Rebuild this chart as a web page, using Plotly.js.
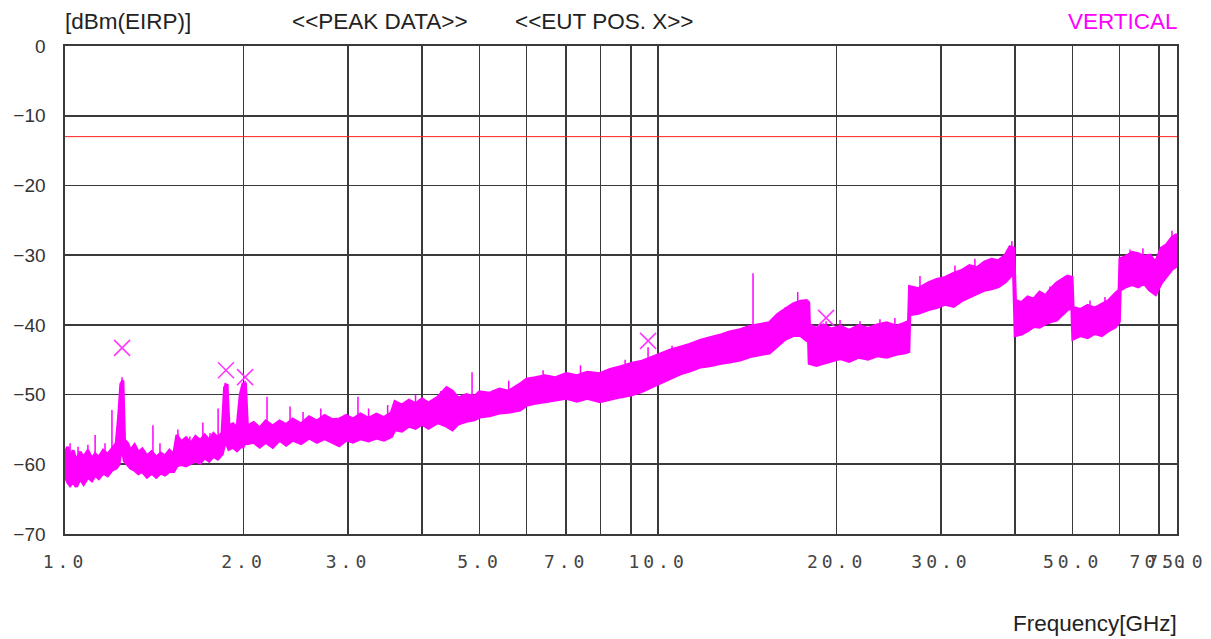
<!DOCTYPE html>
<html>
<head>
<meta charset="utf-8">
<script src="https://cdn.plot.ly/plotly-3.0.1.min.js"></script>
<style>
html,body{margin:0;padding:0;background:#fff;}
#chart{width:1211px;height:639px;}
#chart .xtick text{letter-spacing:4px;}
</style>
</head>
<body>
<div id="chart"></div>
<script>
// ---- Data ----
// Band envelope of the measured trace: frequency [GHz], upper and lower level [dBm]
const bandFreq = [1.000,1.010,1.020,1.032,1.045,1.060,1.075,1.093,1.110,1.124,1.140,1.160,1.180,1.200,1.220,1.232,1.242,1.252,1.260,1.275,1.290,1.310,1.330,1.350,1.375,1.400,1.425,1.450,1.475,1.500,1.525,1.544,1.570,1.600,1.630,1.660,1.690,1.720,1.750,1.780,1.810,1.840,1.858,1.875,1.890,1.920,1.950,1.975,1.995,2.015,2.030,2.080,2.130,2.180,2.240,2.300,2.360,2.420,2.500,2.580,2.660,2.740,2.820,2.900,2.980,3.060,3.150,3.250,3.350,3.450,3.550,3.600,3.700,3.800,3.900,4.000,4.100,4.250,4.400,4.500,4.600,4.750,4.900,5.000,5.200,5.400,5.600,5.850,6.000,6.200,6.450,6.700,7.000,7.300,7.600,7.980,8.300,8.650,9.040,9.400,9.800,10.10,10.50,10.90,11.30,11.80,12.30,12.70,13.20,13.75,14.30,14.80,15.40,15.90,16.40,16.90,17.40,17.80,17.95,18.00,18.50,19.00,19.60,20.30,21.00,21.80,22.60,23.40,24.30,25.20,26.00,26.45,26.55,27.50,28.50,29.50,30.50,31.50,32.50,33.50,34.50,35.50,36.50,37.50,38.50,39.20,39.80,40.05,41.00,42.00,43.00,44.00,45.00,46.00,47.00,48.00,49.00,49.90,50.10,51.50,53.00,54.50,56.00,57.50,59.00,59.90,60.10,61.50,63.00,64.50,66.00,67.50,69.00,70.50,72.00,73.50,75.00];
const bandHigh = [-58.5,-57.5,-59.0,-58.0,-59.5,-58.2,-59.0,-58.0,-59.2,-58.5,-59.0,-58.0,-58.6,-57.8,-57.0,-53.0,-48.5,-48.0,-56.5,-57.0,-58.0,-57.2,-58.3,-57.8,-58.8,-58.2,-59.0,-58.4,-58.8,-58.0,-58.6,-55.8,-56.8,-56.2,-57.0,-56.0,-56.6,-55.8,-56.5,-55.6,-56.2,-55.5,-49.0,-48.5,-54.5,-54.2,-54.8,-50.0,-48.5,-48.5,-54.5,-54.0,-54.8,-53.8,-54.5,-53.8,-54.3,-53.5,-54.2,-53.2,-53.8,-53.0,-53.6,-53.5,-53.0,-53.5,-52.8,-53.4,-52.8,-53.3,-52.6,-51.0,-51.5,-50.8,-51.3,-50.6,-51.2,-50.4,-49.0,-49.5,-50.5,-50.0,-50.3,-49.6,-49.8,-49.2,-49.5,-48.5,-47.8,-47.6,-47.3,-47.6,-47.0,-47.3,-46.8,-47.0,-46.4,-46.0,-45.5,-45.2,-44.6,-44.1,-43.6,-43.2,-42.8,-42.2,-41.8,-41.5,-41.0,-40.7,-40.2,-40.0,-39.7,-38.5,-37.8,-37.0,-36.6,-36.5,-36.8,-40.0,-40.5,-40.0,-40.6,-40.2,-40.8,-40.1,-40.5,-40.0,-39.7,-40.2,-39.8,-39.5,-34.5,-34.8,-34.0,-33.5,-33.2,-32.6,-32.2,-31.5,-31.8,-31.0,-30.6,-30.8,-30.0,-28.8,-29.0,-36.5,-36.8,-36.0,-36.3,-35.3,-35.8,-34.8,-34.0,-33.5,-33.0,-33.2,-37.5,-37.8,-37.2,-37.6,-37.0,-36.5,-35.5,-35.0,-30.5,-30.2,-29.6,-29.8,-30.2,-30.0,-31.0,-29.0,-28.5,-27.5,-27.0];
const bandLow = [-61.5,-62.5,-63.0,-62.5,-63.2,-62.0,-62.8,-61.8,-62.3,-61.5,-62.0,-61.2,-61.6,-60.8,-60.5,-60.0,-58.0,-58.0,-59.5,-60.0,-60.5,-60.8,-61.3,-61.0,-61.8,-61.2,-61.8,-61.2,-61.5,-61.0,-61.0,-60.2,-60.0,-60.2,-59.8,-59.5,-59.8,-59.0,-59.5,-58.8,-59.2,-58.5,-57.0,-57.0,-57.8,-57.5,-58.0,-57.5,-57.5,-56.8,-57.0,-56.8,-57.5,-56.8,-57.5,-56.5,-57.2,-56.5,-57.0,-56.2,-56.8,-56.3,-56.8,-57.3,-56.5,-56.8,-56.3,-56.6,-56.2,-56.5,-56.0,-55.0,-55.2,-54.5,-54.8,-54.2,-54.8,-54.0,-54.5,-55.0,-54.2,-53.8,-53.6,-53.2,-53.0,-52.6,-52.5,-52.2,-51.5,-51.2,-51.0,-50.8,-50.5,-50.9,-50.5,-51.0,-50.6,-50.3,-50.0,-49.5,-48.8,-48.3,-47.6,-47.0,-46.6,-46.0,-45.8,-45.5,-45.3,-45.0,-44.5,-44.3,-44.0,-43.0,-42.0,-41.5,-41.5,-42.2,-42.0,-45.5,-45.8,-45.5,-45.2,-44.8,-45.2,-44.6,-44.9,-44.4,-44.6,-44.2,-44.0,-43.8,-38.5,-38.3,-37.8,-37.5,-37.0,-37.3,-36.5,-36.0,-35.6,-35.0,-34.8,-34.5,-33.8,-33.0,-32.5,-41.5,-41.3,-40.8,-40.2,-40.3,-39.8,-39.5,-39.3,-38.5,-37.8,-37.5,-42.0,-41.5,-41.8,-41.2,-41.5,-40.8,-40.3,-39.5,-35.0,-34.5,-34.2,-34.5,-34.0,-35.0,-35.6,-34.0,-33.0,-32.0,-31.5];
// Narrow spurious spikes: frequency [GHz], foot and tip level [dBm]
const spikeFreq = [1.020,1.052,1.093,1.124,1.168,1.200,1.229,1.238,1.248,1.407,1.446,1.550,1.624,1.708,1.756,1.812,1.862,1.880,2.000,2.012,2.191,2.396,2.520,2.700,3.119,3.250,3.500,3.900,4.300,4.857,5.600,6.400,7.400,8.800,9.62,10.56,13.22,14.46,14.85,16.37,17.2,19.2,20.27,21.9,23.67,25.08,27.65,29.3,31.67,34.22,39.5,45.8,48.57,53.5,56.7,62.5,65.7,73.55];
const spikeBase = [-60,-60,-60,-60,-60,-59,-59,-58,-58,-59,-59,-58,-58,-57,-57,-57,-56,-56,-56,-56,-55,-55,-55,-55,-55,-55,-54,-53,-52,-52,-51,-50,-49,-48,-47,-46,-43,-43,-42,-40,-39,-42,-42,-42,-42,-42,-36,-35,-34,-33,-31,-37,-36,-39,-39,-32,-32,-29];
const spikeTop  = [-57.0,-57.5,-57.2,-55.8,-57.0,-52.2,-54.0,-49.5,-47.5,-54.4,-57.0,-55.0,-56.0,-54.0,-55.5,-52.0,-48.3,-48.5,-48.3,-48.0,-50.3,-51.7,-52.5,-52.0,-50.3,-52.0,-51.5,-50.0,-49.5,-46.8,-48.0,-46.5,-45.8,-45.0,-43.2,-43.0,-41.0,-32.6,-40.0,-37.5,-35.3,-39.5,-39.3,-39.5,-39.2,-39.0,-33.0,-33.5,-31.5,-30.5,-28.0,-34.5,-33.0,-36.5,-36.0,-29.2,-29.0,-26.5];
// Peak markers (x)
const peakFreq = [1.248,1.868,2.012,9.62,19.2];
const peakLevel = [-43.3,-46.5,-47.5,-42.3,-39.0];
// Limit line
const limitLevel = -13;
// Axis ticks
const xTickVals = [1,2,3,4,5,6,7,8,9,10,20,30,40,50,60,70,75];
const xTickText = ['1.0','2.0','3.0','','5.0','','7.0','','','10.0','20.0','30.0','','50.0','','70.0','75.0'];
const yTickVals = [0,-10,-20,-30,-40,-50,-60,-70];
const yTickText = ['0','\u221210','\u221220','\u221230','\u221240','\u221250','\u221260','\u221270'];

// ---- Build traces ----
const mag = '#ff00ff';
const spikeX = [], spikeY = [];
spikeFreq.forEach((f, i) => { spikeX.push(f, f, null); spikeY.push(spikeBase[i], spikeTop[i], null); });

const traces = [
  {x: bandFreq, y: bandLow, type: 'scatter', mode: 'lines', line: {color: mag, width: 3.5}, hoverinfo: 'skip', showlegend: false},
  {x: bandFreq, y: bandHigh, type: 'scatter', mode: 'lines', fill: 'tonexty', fillcolor: mag, line: {color: mag, width: 3}, hoverinfo: 'skip', showlegend: false},
  {x: spikeX, y: spikeY, type: 'scatter', mode: 'lines', line: {color: mag, width: 1.5}, connectgaps: false, showlegend: false},
  {x: peakFreq, y: peakLevel, type: 'scatter', mode: 'markers', marker: {symbol: 'x-thin-open', size: 16, color: '#ff33ff', line: {color: '#ff33ff', width: 1.5}}, showlegend: false}
];

const txt = '#222';
const tsize = 22.5;
const layout = {
  width: 1211, height: 639,
  margin: {l: 65, r: 34, t: 46, b: 105, pad: 0},
  paper_bgcolor: '#fff', plot_bgcolor: '#fff',
  font: {family: 'Liberation Sans, Arial, sans-serif', color: txt, size: 18},
  xaxis: {
    type: 'log', range: [0, Math.log10(75)],
    tickmode: 'array', tickvals: xTickVals, ticktext: xTickText, tickangle: 0,
    tickfont: {family: 'DejaVu Sans Mono, monospace', size: 18, color: '#444'},
    ticks: '', ticklabelstandoff: 11,
    showgrid: true, gridcolor: '#3a3a3a', gridwidth: 1.6,
    showline: true, linecolor: '#3a3a3a', linewidth: 1.6, mirror: true,
    zeroline: false, fixedrange: true
  },
  yaxis: {
    range: [-70, 0], tickmode: 'array', tickvals: yTickVals, ticktext: yTickText,
    tickfont: {family: 'Liberation Sans, Arial, sans-serif', size: 19, color: '#333'},
    ticks: '', ticklabelstandoff: 14,
    showgrid: true, gridcolor: '#3a3a3a', gridwidth: 1.6,
    showline: true, linecolor: '#3a3a3a', linewidth: 1.6, mirror: true,
    zeroline: false, fixedrange: true
  },
  shapes: [
    {type: 'line', xref: 'paper', x0: 0, x1: 1, yref: 'y', y0: limitLevel, y1: limitLevel, line: {color: '#ff2020', width: 1}}
  ],
  annotations: [
    {text: '[dBm(EIRP)]', xref: 'paper', yref: 'paper', x: -0.002, y: 1.05, xanchor: 'left', yanchor: 'middle', showarrow: false, font: {size: tsize, color: txt}},
    {text: '<<PEAK DATA>>', xref: 'paper', yref: 'paper', x: 0.2833, y: 1.05, xanchor: 'center', yanchor: 'middle', showarrow: false, font: {size: tsize, color: txt}},
    {text: '<<EUT POS. X>>', xref: 'paper', yref: 'paper', x: 0.4847, y: 1.05, xanchor: 'center', yanchor: 'middle', showarrow: false, font: {size: tsize, color: txt}},
    {text: 'VERTICAL', xref: 'paper', yref: 'paper', x: 1.003, y: 1.05, xanchor: 'right', yanchor: 'middle', showarrow: false, font: {size: tsize, color: mag}},
    {text: 'Frequency[GHz]', xref: 'paper', yref: 'paper', x: 1.002, y: -0.184, xanchor: 'right', yanchor: 'middle', showarrow: false, font: {size: tsize, color: txt}}
  ]
};

Plotly.newPlot('chart', traces, layout, {displayModeBar: false, staticPlot: true});
</script>
</body>
</html>
